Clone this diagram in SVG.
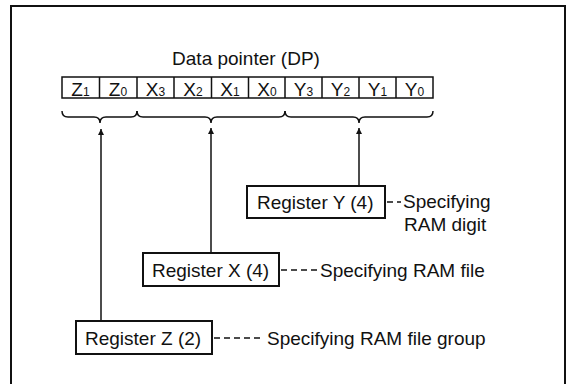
<svg xmlns="http://www.w3.org/2000/svg" width="567" height="384" viewBox="0 0 567 384">
<style>
text{font-family:"Liberation Sans",Arial,sans-serif;font-size:19px;fill:#111}
.sub{font-size:12px}
.cell{fill:#fff;stroke:#111;stroke-width:1.5}
.box{fill:#fff;stroke:#111;stroke-width:2}
.ln{fill:none;stroke:#111;stroke-width:1.5}
.dash{fill:none;stroke:#111;stroke-width:1.5;stroke-dasharray:6,4}
</style>
<defs>
<marker id="ah" viewBox="0 0 10 10" refX="10" refY="5" markerWidth="6" markerHeight="8" markerUnits="userSpaceOnUse" orient="auto">
<path d="M0,0 L10,5 L0,10 Z" fill="#111"/>
</marker>
</defs>
<path d="M11,390 L11,6 L565,6 L565,390" fill="none" stroke="#111" stroke-width="2"/>

<g id="dp">
<text x="246" y="65" text-anchor="middle">Data pointer (DP)</text>
<rect class="cell" x="62" y="77" width="371" height="21"/>
<path class="ln" d="M99.5,77V98M137,77V98M174,77V98M211.5,77V98M248.5,77V98M285,77V98M322,77V98M359,77V98M396,77V98"/>
<g text-anchor="middle">
<text x="80.5" y="96">Z<tspan class="sub">1</tspan></text>
<text x="118" y="96">Z<tspan class="sub">0</tspan></text>
<text x="155.5" y="96">X<tspan class="sub">3</tspan></text>
<text x="193" y="96">X<tspan class="sub">2</tspan></text>
<text x="230" y="96">X<tspan class="sub">1</tspan></text>
<text x="267" y="96">X<tspan class="sub">0</tspan></text>
<text x="303.5" y="96">Y<tspan class="sub">3</tspan></text>
<text x="340.5" y="96">Y<tspan class="sub">2</tspan></text>
<text x="377.5" y="96">Y<tspan class="sub">1</tspan></text>
<text x="414.5" y="96">Y<tspan class="sub">0</tspan></text>
</g>
</g>

<g id="braces">
<path class="ln" d="M62,111 Q62,117 68,117 L94,117 Q100,117 100,123 Q100,117 106,117 L131,117 Q137,117 137,111"/>
<path class="ln" d="M137,111 Q137,117 143,117 L205,117 Q211,117 211,123 Q211,117 217,117 L279,117 Q285,117 285,111"/>
<path class="ln" d="M285,111 Q285,117 291,117 L353,117 Q359,117 359,123 Q359,117 365,117 L427,117 Q433,117 433,111"/>
</g>

<g id="connectors">
<line class="ln" x1="101" y1="321" x2="101" y2="129" marker-end="url(#ah)"/>
<line class="ln" x1="211" y1="253" x2="211" y2="128" marker-end="url(#ah)"/>
<line class="ln" x1="359" y1="186" x2="359" y2="128" marker-end="url(#ah)"/>
<line class="dash" x1="387" y1="202" x2="401" y2="202"/>
<line class="dash" x1="281" y1="270" x2="317" y2="270"/>
<line class="dash" x1="214" y1="338" x2="263" y2="338"/>
</g>

<g id="regY">
<rect class="box" x="247" y="186" width="138" height="32"/>
<text x="257" y="209">Register Y (4)</text>
</g>
<g id="noteY">
<text x="403" y="208">Specifying</text>
<text x="404" y="231">RAM digit</text>
</g>

<g id="regX">
<rect class="box" x="143" y="253" width="136" height="33"/>
<text x="152" y="277">Register X (4)</text>
</g>
<g id="noteX">
<text x="320" y="277">Specifying RAM file</text>
</g>

<g id="regZ">
<rect class="box" x="76" y="321" width="136" height="33"/>
<text x="85" y="345">Register Z (2)</text>
</g>
<g id="noteZ">
<text x="267" y="345">Specifying RAM file group</text>
</g>
</svg>
